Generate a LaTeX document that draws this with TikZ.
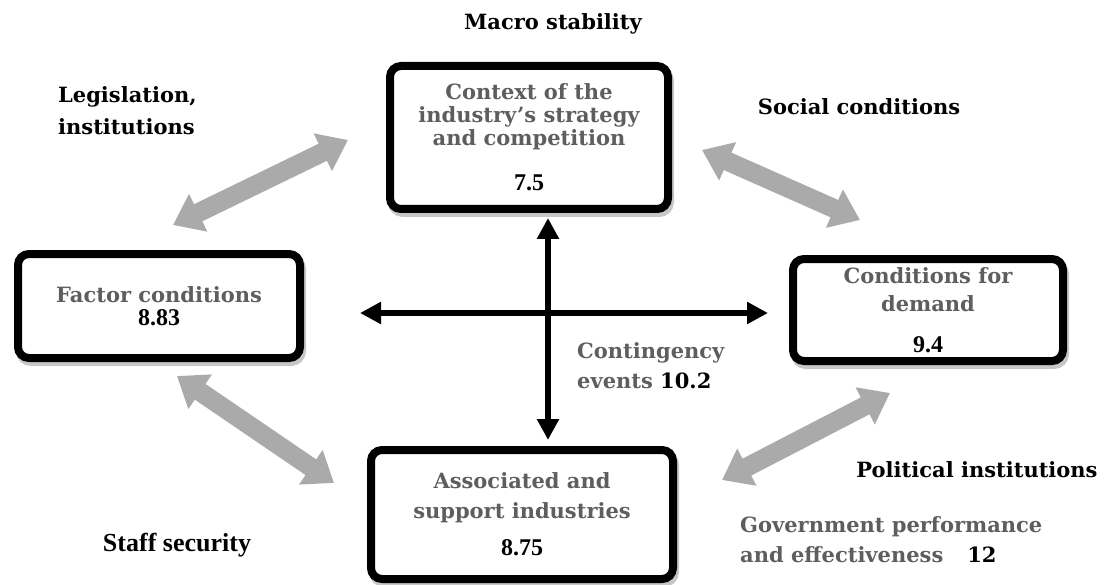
\documentclass[tikz,border=0pt]{standalone}
\usepackage{fontspec}
\setmainfont{DejaVu Serif}
\newfontfamily\numfont{Liberation Serif}
\usetikzlibrary{arrows.meta, positioning, shadows}
\definecolor{pgray}{HTML}{5E5E5E}
\definecolor{parrow}{HTML}{AAAAAA}

\begin{document}
\begin{tikzpicture}[
  x=1pt, y=-1pt,
  every node/.style={font=\fontsize{21}{26}\selectfont\bfseries, inner sep=0pt},
  pbox/.style={rectangle, rounded corners=11pt, draw=black, line width=8pt, fill=white, align=center, text=pgray,
    drop shadow={draw=black, line width=8pt, shadow xshift=2pt, shadow yshift=-4pt, opacity=0.22}},
  garrow/.style={draw=parrow, line width=19pt, {Triangle[width=40pt,length=28pt]}-{Triangle[width=40pt,length=28pt]}},
  barrow/.style={draw=black, line width=6pt, {Triangle[width=21pt,length=21pt]}-{Triangle[width=21pt,length=21pt]}},
]
\useasboundingbox (0,0) rectangle (1107,585);

% Four determinants
\node[pbox, minimum width=278pt, minimum height=143pt] (ctx) at (529,137.5) {Context of the\\[-3pt]industry’s strategy\\[-3pt]and competition\\[19pt]{\numfont\fontsize{24}{26}\selectfont\textcolor{black}{7.5}}};
\node[pbox, minimum width=282pt, minimum height=104pt] (fac) at (159,306) {Factor conditions\\[-3pt]{\numfont\fontsize{24}{26}\selectfont\textcolor{black}{8.83}}};
\node[pbox, minimum width=270pt, minimum height=102pt] (dem) at (928,310) {Conditions for\\[2pt]demand\\[15pt]{\numfont\fontsize{24}{26}\selectfont\textcolor{black}{9.4}}};
\node[pbox, minimum width=302pt, minimum height=129pt] (sup) at (522,514.5) {Associated and\\[4pt]support industries\\[11pt]{\numfont\fontsize{24}{26}\selectfont\textcolor{black}{8.75}}};

% Outer labels
\node (macro) at (553,24) {Macro stability};
\node[anchor=west, align=left] (legis) at (58,111) {Legislation,\\[6pt]institutions};
\node (social) at (859,107) {Social conditions};
\node (polit) at (977,470) {Political institutions};
\node[font=\numfont\fontsize{26}{28}\selectfont\bfseries] (staff) at (177,545) {Staff security};
\node[anchor=west, align=left, text=pgray] (cont) at (577,366) {Contingency\\[4pt]events \textcolor{black}{10.2}};
\node[anchor=west, align=left, text=pgray] (gov) at (740,540) {Government performance\\[4pt]and effectiveness\hspace{24pt}\textcolor{black}{12}};

% Gray links
\draw[garrow] ([xshift=-38pt,yshift=-2.5pt]ctx.west) -- ([xshift=14pt,yshift=25pt]fac.north);
\draw[garrow] ([xshift=30pt,yshift=-12.5pt]ctx.east) -- ([xshift=-68pt,yshift=35pt]dem.north);
\draw[garrow] ([xshift=18pt,yshift=-14pt]fac.south) -- ([xshift=-33pt,yshift=31.5pt]sup.west);
\draw[garrow] ([xshift=-38pt,yshift=-28pt]dem.south) -- ([xshift=45pt,yshift=34.5pt]sup.east);

% Cross
\draw[barrow] ([xshift=19pt,yshift=-5pt]ctx.south) -- ([xshift=26pt,yshift=6pt]sup.north);
\draw[barrow] ([xshift=56pt,yshift=-7pt]fac.east) -- ([xshift=-21pt,yshift=-3pt]dem.west);
\end{tikzpicture}
\end{document}
